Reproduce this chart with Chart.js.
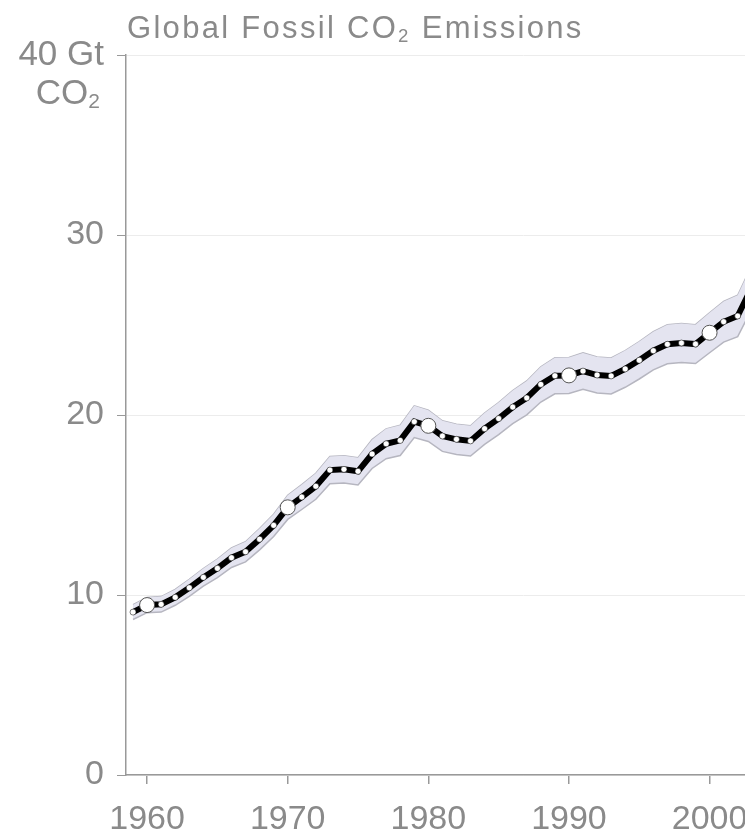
<!DOCTYPE html>
<html lang="en">
<head>
    <meta charset="UTF-8">
    <title>Global Fossil CO2 Emissions</title>
    <script src="https://cdn.jsdelivr.net/npm/chart.js@4.4.1/dist/chart.umd.min.js"></script>
    <style>
        body { margin: 0; background: #fff; overflow: hidden; }
        #wrap { position: relative; width: 745px; height: 838px; overflow: hidden; }
        #box { position: absolute; left: 0; top: 0; width: 925px; height: 838px; }
        .txt { position: absolute; font-family: "Liberation Sans", Arial, Helvetica, sans-serif; color: #8a8a8a; white-space: nowrap; line-height: 1; }
        .txt sub { font-size: 60%; vertical-align: -0.2em; }
        #title { left: 127px; top: 12px; font-size: 31px; letter-spacing: 2.3px; }
        #unit { right: 645px; top: 74px; font-size: 35px; text-align: right; }
    </style>
</head>
<body>
<div id="wrap">
    <div id="box"><canvas id="chart"></canvas></div>
    <div id="title" class="txt">Global Fossil CO<sub>2</sub> Emissions</div>
    <div id="unit" class="txt">CO<sub>2</sub></div>
</div>

<script>
    // Gt CO2 per year
    const years = [1959, 1960, 1961, 1962, 1963, 1964, 1965, 1966, 1967, 1968, 1969,
        1970, 1971, 1972, 1973, 1974, 1975, 1976, 1977, 1978, 1979,
        1980, 1981, 1982, 1983, 1984, 1985, 1986, 1987, 1988, 1989,
        1990, 1991, 1992, 1993, 1994, 1995, 1996, 1997, 1998, 1999,
        2000, 2001, 2002, 2003];
    const emissions = [9.05, 9.44, 9.48, 9.87, 10.4, 10.98, 11.48, 12.07, 12.4, 13.1, 13.87,
        14.87, 15.44, 16.04, 16.94, 16.98, 16.87, 17.83, 18.4, 18.59, 19.63,
        19.4, 18.83, 18.65, 18.56, 19.24, 19.8, 20.44, 20.95, 21.7, 22.18,
        22.2, 22.44, 22.22, 22.17, 22.56, 23.04, 23.57, 23.93, 24.0, 23.94,
        24.57, 25.18, 25.5, 27.1];
    const upper = [9.46, 9.86, 9.91, 10.31, 10.87, 11.47, 12.0, 12.61, 12.96, 13.69, 14.49,
        15.54, 16.13, 16.76, 17.7, 17.74, 17.63, 18.63, 19.23, 19.43, 20.51,
        20.27, 19.68, 19.49, 19.4, 20.11, 20.69, 21.36, 21.89, 22.68, 23.18,
        23.2, 23.45, 23.22, 23.17, 23.58, 24.08, 24.63, 25.01, 25.08, 25.02,
        25.68, 26.31, 26.65, 28.32];
    const lower = [8.64, 9.02, 9.05, 9.43, 9.93, 10.49, 10.96, 11.53, 11.84, 12.51, 13.25,
        14.2, 14.75, 15.32, 16.18, 16.22, 16.11, 17.03, 17.57, 17.75, 18.75,
        18.53, 17.98, 17.81, 17.72, 18.37, 18.91, 19.52, 20.01, 20.72, 21.18,
        21.2, 21.43, 21.22, 21.17, 21.54, 22.0, 22.51, 22.85, 22.92, 22.86,
        23.46, 24.05, 24.35, 25.88];
    const yTicks = [0, 10, 20, 30, 40];

    const pts = arr => arr.map((v, i) => ({x: years[i], y: v}));
    const gray = '#8a8a8a';
    const fam = '"Liberation Sans", Arial, Helvetica, sans-serif';
    const isDecade = c => c.raw && c.raw.x % 10 === 0;

    new Chart(document.querySelector('#chart'), {
        type: 'line',
        data: {
            datasets: [
                {
                    data: pts(upper),
                    borderColor: '#b6b6c0',
                    borderWidth: 1.5,
                    pointRadius: 0,
                    fill: false,
                    order: 2
                },
                {
                    data: pts(lower),
                    borderColor: '#b6b6c0',
                    borderWidth: 1.5,
                    backgroundColor: '#e4e4f0',
                    pointRadius: 0,
                    fill: '-1',
                    order: 1
                },
                {
                    data: pts(emissions),
                    borderColor: '#000',
                    borderWidth: 6,
                    pointRadius: c => (isDecade(c) ? 7.5 : 3),
                    pointBackgroundColor: '#fff',
                    pointBorderColor: c => (isDecade(c) ? '#555' : '#000'),
                    pointBorderWidth: c => (isDecade(c) ? 1 : 0.5),
                    fill: false,
                    order: 0
                }
            ]
        },
        options: {
            responsive: true,
            maintainAspectRatio: false,
            animation: false,
            events: [],
            layout: {padding: {top: 55, right: 0, bottom: 0, left: 0}},
            plugins: {legend: {display: false}, tooltip: {enabled: false}},
            scales: {
                x: {
                    type: 'linear',
                    min: 1958.5,
                    max: 2015,
                    afterFit: s => { s.height = 63; },
                    border: {color: '#999', width: 1.5},
                    grid: {drawOnChartArea: false, tickLength: 9, color: '#999', lineWidth: 1.5},
                    ticks: {
                        stepSize: 10,
                        includeBounds: false,
                        padding: 15,
                        color: gray,
                        font: {family: fam, size: 34},
                        maxRotation: 0,
                        callback: v => String(v)
                    }
                },
                y: {
                    min: 0,
                    max: 40,
                    afterFit: s => { s.width = 126; },
                    afterBuildTicks: s => { s.ticks = yTicks.map(v => ({value: v})); },
                    border: {color: '#999', width: 1.5},
                    grid: {color: '#ececec', lineWidth: 1, tickLength: 9, tickColor: '#999'},
                    ticks: {
                        padding: c => (c.tick && c.tick.value === 40 ? 16 : 13),
                        color: gray,
                        font: c => ({family: fam, size: c.tick && c.tick.value === 40 ? 35 : 34}),
                        callback: v => (v === 40 ? '40 Gt' : String(v))
                    }
                }
            }
        }
    });
</script>
</body>
</html>
